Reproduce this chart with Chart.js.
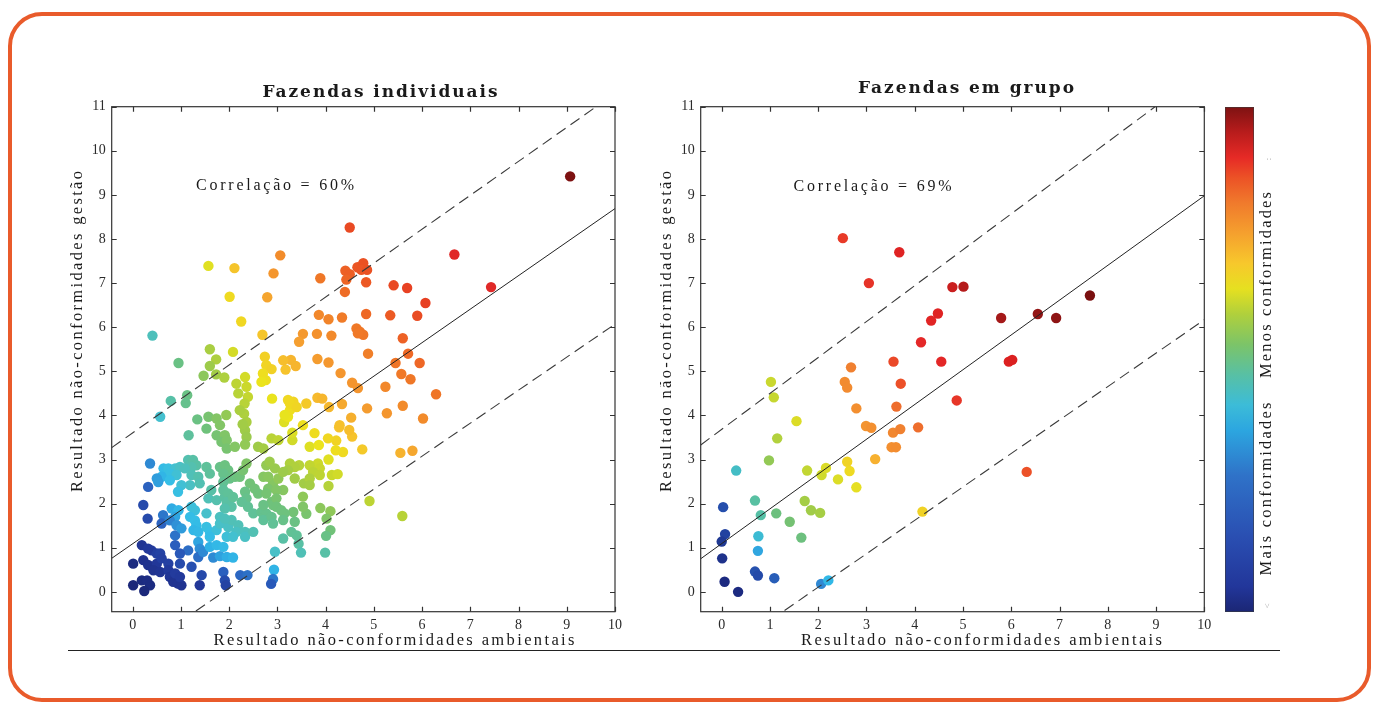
<!DOCTYPE html>
<html><head><meta charset="utf-8">
<script src="https://cdn.jsdelivr.net/npm/chart.js@4.4.0/dist/chart.umd.min.js"></script>
<style>
html,body{margin:0;padding:0;background:#fff;width:1380px;height:704px;overflow:hidden;position:relative}
#frame{position:absolute;left:8px;top:12px;width:1363px;height:690px;border:4px solid #E95B2B;border-radius:34px;box-sizing:border-box}
#hline{position:absolute;left:68px;top:650px;width:1212px;height:1px;background:#222}
canvas{position:absolute;top:0}
#cA{left:0}
#cB{left:660px}
</style></head>
<body>
<div id="frame"></div>
<div id="hline"></div>
<canvas id="cA" width="660" height="704"></canvas>
<canvas id="cB" width="720" height="704"></canvas>
<script>
// ---------- DATA ----------
const xTicks = [0,1,2,3,4,5,6,7,8,9,10];
const yTicks = [0,1,2,3,4,5,6,7,8,9,10,11];
const lineX = [-0.435, 10];
const leftFit = [0.76, 8.69];
const leftUpper = [3.27, 11.3];
const leftLower = [-1.74, 6.07];
const rightFit = [0.75, 8.98];
const rightUpper = [3.33, 11.83];
const rightLower = [-1.74, 6.17];

const leftPoints = [
[9.07,9.42],[4.5,8.26],[6.67,7.65],[7.43,6.91],[3.06,7.63],[1.57,7.39],[2.11,7.34],[2.92,7.22],[2.01,6.69],[2.79,6.68],
[2.25,6.13],[2.69,5.83],[0.41,5.81],[3.89,7.11],[4.41,7.28],[4.5,7.2],[4.66,7.36],[4.78,7.45],[4.74,7.3],[4.86,7.3],
[4.43,7.08],[4.84,7.02],[4.4,6.8],[5.41,6.95],[5.69,6.89],[6.07,6.55],[5.9,6.26],[5.34,6.27],[4.84,6.3],[4.34,6.22],
[4.06,6.18],[3.86,6.28],[3.82,5.85],[4.12,5.81],[3.53,5.85],[3.45,5.67],[4.64,5.97],[4.71,5.9],[4.78,5.83],[4.67,5.86],
[4.88,5.4],[5.6,5.75],[5.71,5.4],[5.45,5.19],[5.57,4.94],[5.76,4.82],[5.95,5.19],[5.24,4.65],[6.29,4.48],[5.6,4.22],
[5.27,4.05],[6.02,3.93],[4.86,4.16],[4.53,3.95],[4.34,4.26],[4.31,4.96],[4.55,4.74],[4.67,4.62],[3.83,5.28],[4.06,5.2],
[3.28,5.26],[3.38,5.12],[3.17,5.04],[3.83,4.4],[3.93,4.38],[4.07,4.19],[3.6,4.27],[4.55,3.52],[4.28,3.73],[4.22,3.43],
[4.36,3.17],[4.76,3.23],[5.55,3.15],[5.8,3.2],[4.06,3.0],[4.13,2.65],[4.25,2.67],[4.06,2.4],[4.91,2.06],[5.59,1.72],
[4.1,1.83],[3.89,1.9],[3.6,1.77],[4.1,1.4],[4.01,1.27],[3.99,0.89],[3.44,1.09],[3.49,0.89],
[0.95,5.19],[1.6,5.5],[1.73,5.27],[1.6,5.12],[1.47,4.9],[1.73,4.93],[1.9,4.86],[2.08,5.44],[2.15,4.72],[2.33,4.87],
[2.36,4.65],[2.74,5.33],[2.77,5.14],[2.7,4.95],[2.76,4.8],[2.88,5.05],[2.67,4.76],[2.89,4.38],[3.12,5.25],
[1.13,4.46],[0.79,4.33],[0.57,3.97],[1.1,4.28],[1.34,3.91],[1.57,3.97],[1.74,3.93],[1.94,4.01],[1.81,3.78],[1.53,3.7],
[1.16,3.55],[1.74,3.55],[1.91,3.55],[1.84,3.4],[1.95,3.44],[2.31,4.04],[2.36,3.85],[2.33,3.66],[2.36,3.51],[2.28,3.8],
[2.19,4.5],[2.39,4.42],[2.32,4.27],[2.22,4.12],[1.95,3.25],[2.12,3.29],[2.33,3.34],[2.6,3.29],[2.71,3.25],[2.88,3.48],
[3.02,3.44],[3.14,3.85],[3.22,3.97],[3.26,4.12],[3.33,4.31],[3.26,4.27],[3.4,4.19],[3.22,4.35],[3.15,4.01],[3.53,3.78],
[3.31,3.44],[3.31,3.61],[3.77,3.6],[3.67,3.29],[3.86,3.33],[4.05,3.48],[4.29,3.78],[4.49,3.67],[4.21,3.21],[3.84,2.91],
[3.67,2.87],[3.88,2.8],[3.74,2.72],[3.88,2.65],[3.45,2.87],[3.26,2.91],[3.36,2.83],[3.22,2.76],[3.55,2.46],[3.67,2.57],
[3.67,2.42],[3.53,2.16],[3.12,2.31],[2.91,2.46],[3.02,2.57],[2.81,2.34],[2.98,2.31],
[0.36,2.91],[0.64,2.8],[0.74,2.8],[0.88,2.8],[0.98,2.83],[0.77,2.68],[0.91,2.65],[0.6,2.61],[0.77,2.53],[0.5,2.57],
[0.53,2.49],[0.32,2.38],[1.15,2.99],[1.25,2.99],[1.32,2.87],[1.22,2.83],[1.08,2.8],[1.22,2.65],[1.36,2.61],[1.19,2.42],
[1.39,2.46],[1.01,2.42],[0.94,2.27],[1.53,2.83],[1.6,2.68],[1.81,2.83],[1.91,2.87],[1.98,2.76],[1.88,2.68],[2.01,2.57],
[1.88,2.49],[2.12,2.61],[2.22,2.61],[2.29,2.76],[2.36,2.91],[2.43,2.46],[2.53,2.34],[2.77,2.87],[2.71,2.61],[2.81,2.61],
[2.95,2.8],[2.84,2.95],[3.12,2.72],[3.36,2.57],
[0.22,1.97],[0.31,1.66],[0.63,1.74],[0.6,1.55],[0.81,1.89],[0.95,1.85],[0.88,1.7],[0.77,1.62],[0.91,1.51],[1.22,1.93],
[1.29,1.85],[1.19,1.7],[1.29,1.62],[1.32,1.51],[1.26,1.4],[1.36,1.36],[1.53,1.78],[1.57,2.12],[1.74,2.08],[1.91,2.15],
[1.63,2.31],[1.88,2.31],[1.98,2.23],[1.95,2.04],[2.05,1.93],[1.91,1.89],[1.81,1.7],[2.08,2.15],[2.33,2.27],[2.36,2.12],
[2.39,1.93],[2.26,2.04],[2.5,1.78],[2.67,1.81],[2.77,1.78],[2.6,2.23],[2.77,2.23],[2.88,2.04],[2.91,1.97],[2.71,1.97],
[2.98,2.12],[2.98,1.93],[3.08,1.85],[3.33,1.81],[3.53,1.93],[3.15,1.78],[4.02,1.66],[2.95,0.91],
[0.88,1.28],[0.88,1.06],[1.01,1.44],[1.15,0.94],[1.36,1.13],[1.39,0.98],[1.36,0.79],[1.46,0.91],[1.53,1.47],[1.6,1.36],
[1.74,1.4],[1.81,1.55],[1.98,1.47],[2.05,1.63],[1.91,1.66],[2.19,1.51],[2.15,1.36],[1.95,1.25],[2.08,1.25],[1.6,1.25],
[1.6,1.02],[1.74,1.06],[1.88,1.02],[2.33,1.36],[2.33,1.25],[2.5,1.36],[2.71,1.63],[2.88,1.7],[2.91,1.55],[3.12,1.63],
[3.29,1.36],[3.4,1.28],[3.36,1.59],[3.12,1.21],[1.67,0.78],[1.81,0.81],[1.95,0.79],[2.08,0.78],[0.98,0.87],
[0.01,0.64],[0.22,0.72],[0.32,0.61],[0.5,0.64],[0.43,0.49],[0.57,0.45],[0.39,0.94],[0.5,0.87],[0.57,0.87],[0.6,0.76],
[0.19,1.06],[0.32,0.98],[0.01,0.15],[0.19,0.26],[0.3,0.26],[0.36,0.15],[0.24,0.02],[0.74,0.64],[0.74,0.49],[0.77,0.34],
[0.84,0.23],[0.94,0.19],[1.01,0.15],[0.88,0.42],[0.98,0.34],[0.98,0.64],[1.22,0.57],[1.39,0.15],[1.43,0.38],[1.88,0.45],
[1.91,0.26],[1.93,0.15],[2.23,0.38],[2.38,0.38],[2.93,0.5],[2.91,0.29],[2.87,0.18]
];

const rightPoints = [
[2.51,8.02],[3.68,7.7],[3.05,7.0],[4.78,6.91],[5.01,6.92],[4.34,6.15],[4.48,6.31],[5.79,6.21],[6.55,6.3],[6.93,6.21],
[7.63,6.72],[4.13,5.66],[3.56,5.22],[4.55,5.22],[5.95,5.22],[6.02,5.26],[2.68,5.09],[2.55,4.76],[2.6,4.63],[3.71,4.72],
[4.87,4.34],[2.79,4.16],[3.62,4.2],[2.99,3.76],[3.1,3.72],[3.55,3.61],[3.7,3.69],[4.07,3.73],[3.52,3.28],[3.61,3.28],
[3.18,3.01],[2.6,2.95],[2.65,2.74],[2.41,2.55],[2.79,2.37],[2.07,2.65],[2.16,2.81],[6.32,2.72],[4.16,1.82],[1.02,4.76],
[1.08,4.41],[1.55,3.87],[1.15,3.48],[0.98,2.98],[0.3,2.75],[1.77,2.75],[1.72,2.06],[1.85,1.85],[2.04,1.79],[1.41,1.59],
[1.13,1.78],[0.81,1.74],[0.69,2.07],[0.76,1.26],[1.65,1.23],[0.75,0.93],[0.03,1.92],[0.07,1.31],[0.0,1.14],[0.01,0.76],
[0.06,0.23],[0.34,0.0],[0.69,0.46],[0.75,0.37],[1.09,0.31],[2.06,0.18],[2.21,0.26]
];

// ---------- STYLE ----------
const leftStops = [[0,'#1a2676'],[0.7,'#22389a'],[1.5,'#2a5cbc'],[2.0,'#2e86d2'],[2.4,'#30b2e6'],[3.0,'#36bfe6'],
 [3.8,'#48c0c8'],[5,'#58c0a6'],[7.5,'#72c276'],[10.5,'#a2cc46'],[13,'#cad82c'],[15,'#ece41c'],[18.5,'#f6c22c'],
 [22,'#f5a030'],[30,'#f07c28'],[37,'#ec5a24'],[45,'#e63a22'],[56,'#e02828'],[92,'#7a1010']];
const rightStops = [[0.1,'#1c2a80'],[0.6,'#2448a8'],[1.0,'#2f80d0'],[1.3,'#30b8e8'],[2.0,'#50c0b0'],[3.0,'#70c078'],
 [4.5,'#a0cc48'],[6.5,'#c8d830'],[8.5,'#ece020'],[11,'#f8b830'],[13.5,'#f39030'],[16,'#f08030'],[20,'#ec5028'],
 [26,'#e42828'],[35,'#dc2020'],[40,'#a01818'],[55,'#7a1010']];

function hex(h){return [parseInt(h.substr(1,2),16),parseInt(h.substr(3,2),16),parseInt(h.substr(5,2),16)];}
function colorFor(c, stops){
  if(c<=stops[0][0]) return stops[0][1];
  for(let i=1;i<stops.length;i++){
    if(c<=stops[i][0]){
      const t=(c-stops[i-1][0])/(stops[i][0]-stops[i-1][0]);
      const a=hex(stops[i-1][1]), b=hex(stops[i][1]);
      return 'rgb('+a.map((v,k)=>Math.round(v+(b[k]-v)*t)).join(',')+')';
    }
  }
  return stops[stops.length-1][1];
}

function fitText(ctx, text, font, cx, cy, width, rot){
  ctx.save();
  ctx.font = font;
  ctx.letterSpacing = '0px';
  const w0 = ctx.measureText(text).width;
  const n = [...text].length;
  const ls = (width - w0)/Math.max(1,n-1);
  ctx.letterSpacing = ls+'px';
  ctx.fillStyle = '#1a1a1a';
  ctx.textAlign='center'; ctx.textBaseline='middle';
  ctx.translate(cx,cy); if(rot) ctx.rotate(rot);
  ctx.fillText(text, ls/2, 0);
  ctx.restore();
}

function decorPlugin(t){
  return {
    id:'decor'+t.id,
    afterDraw(chart){
      const ctx=chart.ctx, ca=chart.chartArea, sx=chart.scales.x, sy=chart.scales.y;
      ctx.save();
      ctx.strokeStyle='#333'; ctx.lineWidth=1.2;
      ctx.beginPath();
      xTicks.forEach(v=>{const p=Math.round(sx.getPixelForValue(v))+0.5;
        ctx.moveTo(p,ca.bottom); ctx.lineTo(p,ca.bottom-5); ctx.moveTo(p,ca.top); ctx.lineTo(p,ca.top+5);});
      yTicks.forEach(v=>{const p=Math.round(sy.getPixelForValue(v))+0.5;
        ctx.moveTo(ca.left,p); ctx.lineTo(ca.left+5,p); ctx.moveTo(ca.right,p); ctx.lineTo(ca.right-5,p);});
      ctx.stroke();
      ctx.strokeRect(ca.left,ca.top,ca.width,ca.height);
      ctx.restore();
      fitText(ctx,t.title,'bold 17px "DejaVu Serif"',t.titleX,t.titleY,t.titleW);
      fitText(ctx,t.corr,'16px "Liberation Serif"',t.corrX,t.corrY,t.corrW);
      fitText(ctx,'Resultado não-conformidades ambientais','16.5px "Liberation Serif"',t.xtX,640.5,361);
      fitText(ctx,'Resultado não-conformidades gestão','16.5px "Liberation Serif"',t.ytX,331.5,321,-Math.PI/2);
      if(t.colorbar){
        const x0=565,x1=594,y0=107,y1=612;
        const g=ctx.createLinearGradient(0,y1,0,y0);
        const cs=[[0,'#1b2674'],[0.05,'#22369a'],[0.15,'#2a4fb2'],[0.27,'#2f72c8'],[0.36,'#2ca6e0'],[0.41,'#3cbcd8'],
          [0.47,'#58c0a4'],[0.53,'#7cc468'],[0.59,'#b0d03c'],[0.64,'#e6e020'],[0.69,'#f7c82c'],[0.75,'#f5a02e'],
          [0.81,'#f07a2c'],[0.86,'#ec5226'],[0.9,'#e62a26'],[0.95,'#b81c1c'],[1,'#7e1212']];
        cs.forEach(s=>g.addColorStop(s[0],s[1]));
        ctx.save();
        ctx.fillStyle=g; ctx.fillRect(x0,y0,x1-x0,y1-y0);
        ctx.strokeStyle='rgba(60,60,60,0.6)'; ctx.lineWidth=1; ctx.strokeRect(x0+0.5,y0+0.5,x1-x0-1,y1-y0-1);
        ctx.restore();
        fitText(ctx,'Mais conformidades','16.5px "Liberation Serif"',607,489,173,-Math.PI/2);
        fitText(ctx,'Menos conformidades','16.5px "Liberation Serif"',607,285,186,-Math.PI/2);
        ctx.save(); ctx.fillStyle='#999'; ctx.font='9px "Liberation Serif"'; ctx.textAlign='center'; ctx.textBaseline='middle';
        ctx.translate(609,159); ctx.rotate(-Math.PI/2); ctx.fillText(':',0,0); ctx.restore();
        ctx.save(); ctx.fillStyle='#aaa'; ctx.font='9px "Liberation Serif"'; ctx.textAlign='center'; ctx.textBaseline='middle';
        ctx.translate(608,606); ctx.rotate(-Math.PI/2); ctx.fillText('<',0,0); ctx.restore();
      }
    }
  };
}

function makeChart(id, points, fit, upper, lower, stops, padL, yW, padR, t){
  const data = points.map(p=>({x:p[0],y:p[1]}));
  const colors = points.map(p=>colorFor(p[0]*p[1]+0.3*(p[0]+p[1]), stops));
  const seg = arr => lineX.map((x,i)=>({x, y:arr[i]}));
  const lineDs = (arr,dash)=>({data:seg(arr),showLine:true,borderColor:dash?'#3a3a3a':'#222',borderWidth:dash?1.1:1,
    borderDash:dash?[11,6]:[],pointRadius:0,pointHoverRadius:0,clip:0,fill:false});
  const tickFont={family:'Liberation Serif',size:14};
  return new Chart(document.getElementById(id),{
    type:'scatter',
    data:{datasets:[lineDs(fit,false),lineDs(upper,true),lineDs(lower,true),
      {data, backgroundColor:colors, borderWidth:0, pointRadius:5.2, pointHoverRadius:5.2}]},
    options:{
      responsive:false, animation:false, events:[], devicePixelRatio:1,
      layout:{padding:{left:padL,right:padR,top:106.7,bottom:62.3}},
      plugins:{legend:{display:false},tooltip:{enabled:false},title:{display:false}},
      scales:{
        x:{type:'linear',min:-0.435,max:10,grid:{display:false,drawTicks:false},border:{display:false},
          afterBuildTicks:s=>{s.ticks=xTicks.map(v=>({value:v}));},
          afterFit:s=>{s.height=30;},
          ticks:{font:tickFont,color:'#2a2a2a',padding:5,maxRotation:0,minRotation:0,autoSkip:false}},
        y:{type:'linear',min:-0.45,max:11,grid:{display:false,drawTicks:false},border:{display:false},
          afterBuildTicks:s=>{s.ticks=yTicks.map(v=>({value:v}));},
          afterFit:s=>{s.width=yW;},
          ticks:{font:tickFont,color:'#2a2a2a',padding:6,autoSkip:false}}
      }
    },
    plugins:[decorPlugin(t)]
  });
}

makeChart('cA', leftPoints, leftFit, leftUpper, leftLower, leftStops, 70, 41.7, 45,
  {id:'A',title:'Fazendas individuais',titleX:380,titleY:93,titleW:235,corr:'Correlação = 60%',corrX:275,corrY:186,corrW:158,
   xtX:394,ytX:78});
makeChart('cB', rightPoints, rightFit, rightUpper, rightLower, rightStops, 0, 40.7, 175.7,
  {id:'B',title:'Fazendas em grupo',titleX:306,titleY:89,titleW:216,corr:'Correlação = 69%',corrX:212.5,corrY:187,corrW:158,
   xtX:321.5,ytX:7,colorbar:true});
</script>
</body></html>
